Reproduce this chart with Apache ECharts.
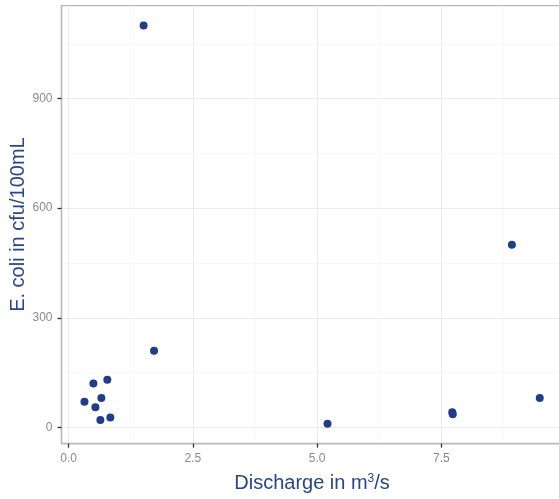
<!DOCTYPE html>
<html>
<head>
<meta charset="utf-8">
<script src="https://cdn.jsdelivr.net/npm/echarts@6/dist/echarts.min.js"></script>
<style>
html,body{margin:0;padding:0;background:#fff;}
#chart{width:559px;height:499px;}
</style>
</head>
<body>
<div id="chart"></div>
<script>
var discharge = [1.51, 0.32, 0.50, 0.78, 0.66, 0.54, 0.64, 0.84, 1.72, 5.21, 7.72, 7.73, 9.48, 8.92];
var ecoli     = [1100, 70, 120, 130, 80, 55, 20, 27, 210, 10, 41, 36, 80, 500];
var xTicks = [0, 2.5, 5, 7.5];
var xMinor = [1.25, 3.75, 6.25, 8.75];
var yTicks = [0, 300, 600, 900];
var yMinor = [150, 450, 750, 1050];

var points = discharge.map(function (d, i) { return [d, ecoli[i]]; });

var xMin = -0.142, xMax = 9.94, yMin = -44.5, yMax = 1154.5;
var titleColor = '#27468f';
var pointColor = '#1f3d8a';
var font = 'Liberation Sans, Arial, sans-serif';

function xfmt(v) { return v.toFixed(1); }

var chart = echarts.init(document.getElementById('chart'), null, {renderer: 'canvas'});
chart.setOption({
  animation: false,
  backgroundColor: '#ffffff',
  grid: {
    left: 61.5, top: 5.6, right: -3.6, bottom: 55.4,
    show: true, borderColor: '#b8b8b8', borderWidth: 1.3,
    containLabel: false, outerBoundsMode: 'none'
  },
  xAxis: [{
    type: 'value', min: xMin, max: xMax,
    name: 'Discharge in m{sup|3}/s', nameLocation: 'middle', nameGap: 29,
    nameTextStyle: {
      color: titleColor, fontSize: 20, fontFamily: font,
      rich: { sup: { fontSize: 12, color: titleColor, fontFamily: font, verticalAlign: 'top', padding: [0, 0, 9, 0] } }
    },
    axisLine: { show: true, onZero: false, lineStyle: { color: '#b8b8b8', width: 1.3 } },
    axisTick: { show: true, length: 4, customValues: xTicks, lineStyle: { color: '#333', width: 1.3 } },
    axisLabel: { customValues: xTicks, formatter: xfmt, color: '#8a8a8a', fontSize: 12, fontFamily: font, margin: 9 },
    splitLine: { show: true, lineStyle: { color: '#ebebeb', width: 1 } }
  }, {
    type: 'value', min: xMin, max: xMax, position: 'bottom',
    axisLine: { show: false }, axisLabel: { show: false, customValues: xMinor },
    axisTick: { show: false, customValues: xMinor },
    splitLine: { show: true, lineStyle: { color: '#f5f5f5', width: 0.7 } }
  }],
  yAxis: [{
    type: 'value', min: yMin, max: yMax,
    name: 'E. coli in cfu/100mL', nameLocation: 'middle', nameGap: 33, nameMoveOverlap: false,
    nameTextStyle: { color: titleColor, fontSize: 20, fontFamily: font },
    axisLine: { show: true, onZero: false, lineStyle: { color: '#b8b8b8', width: 1.3 } },
    axisTick: { show: true, length: 4, customValues: yTicks, lineStyle: { color: '#333', width: 1.3 } },
    axisLabel: { customValues: yTicks, color: '#8a8a8a', fontSize: 12, fontFamily: font, margin: 9 },
    splitLine: { show: true, lineStyle: { color: '#ebebeb', width: 1 } }
  }, {
    type: 'value', min: yMin, max: yMax, position: 'left',
    axisLine: { show: false }, axisLabel: { show: false, customValues: yMinor },
    axisTick: { show: false, customValues: yMinor },
    splitLine: { show: true, lineStyle: { color: '#f5f5f5', width: 0.7 } }
  }],
  series: [{
    type: 'scatter', xAxisIndex: 0, yAxisIndex: 0,
    data: points, symbolSize: 8,
    itemStyle: { color: pointColor, opacity: 1 },
    z: 5
  }]
});
</script>
</body>
</html>
